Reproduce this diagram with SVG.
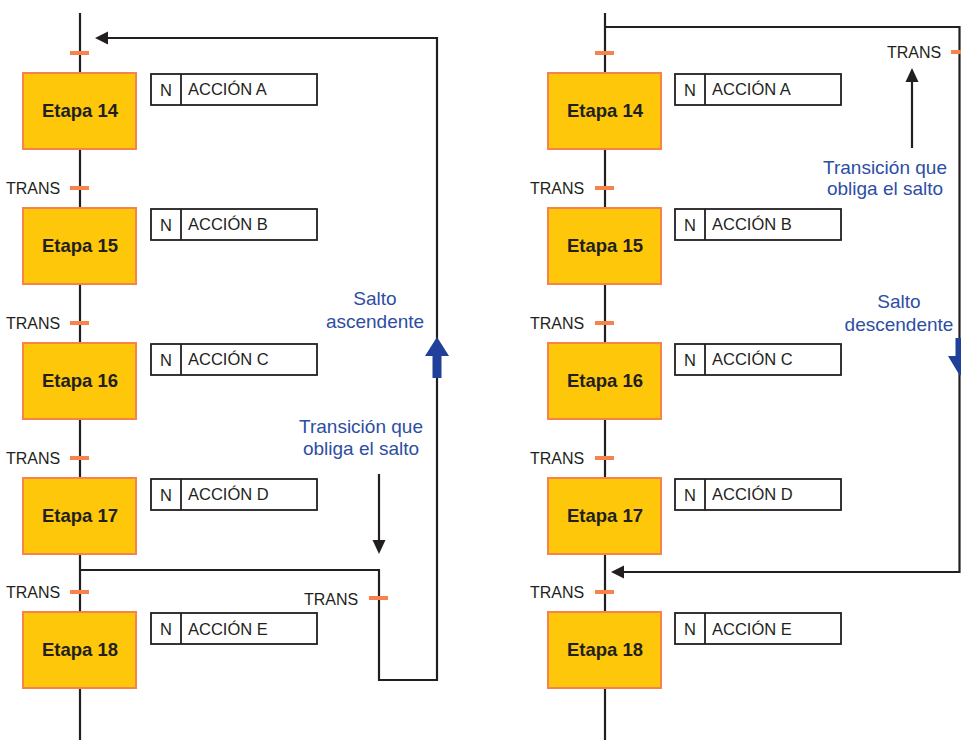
<svg xmlns="http://www.w3.org/2000/svg" width="961" height="740" viewBox="0 0 961 740">
  <defs>
    <style>
      .wire { fill: none; stroke: #231f20; stroke-width: 2.2; }
      .step rect { fill: #fec70a; stroke: #f5834b; stroke-width: 2; }
      .step text { font-family: "Liberation Sans", Arial, sans-serif; font-weight: bold; font-size: 18.5px; fill: #231f20; text-anchor: middle; }
      .act rect, .act line { fill: #ffffff; stroke: #231f20; stroke-width: 1.8; }
      .act text { font-family: "Liberation Sans", Arial, sans-serif; font-size: 16.5px; fill: #231f20; }
      .trans { fill: #f5834b; }
      .tlabel { font-family: "Liberation Sans", Arial, sans-serif; font-size: 16px; fill: #231f20; }
      .note { font-family: "Liberation Sans", Arial, sans-serif; font-size: 19px; fill: #2d4ea3; text-anchor: middle; }
      .blue { fill: #21409a; }
      .head { fill: #231f20; }
    </style>
  </defs>

  <!-- ===== Left chart: upward jump ===== -->
  <g id="left-connectors">
    <line class="wire" x1="80" y1="13" x2="80" y2="740"/>
    <polyline class="wire" points="106,38 437,38 437,680 379,680 379,570 80,570"/>
    <polygon class="head" points="95,38 108,31.5 108,44.5"/>
    <line class="wire" x1="379" y1="474" x2="379" y2="542"/>
    <polygon class="head" points="379,554 372.5,540 385.5,540"/>
    <polygon class="blue" points="437,337 449,356 441.5,356 441.5,378 432.5,378 432.5,356 425,356"/>
  </g>

  <g id="left-transitions">
    <rect class="trans" x="70" y="51" width="19" height="4"/>
    <rect class="trans" x="70" y="186" width="19" height="4"/>
    <rect class="trans" x="70" y="321" width="19" height="4"/>
    <rect class="trans" x="70" y="456" width="19" height="4"/>
    <rect class="trans" x="70" y="590" width="19" height="4"/>
    <rect class="trans" x="369" y="596" width="19" height="4"/>
    <text class="tlabel" x="6" y="194">TRANS</text>
    <text class="tlabel" x="6" y="329">TRANS</text>
    <text class="tlabel" x="6" y="464">TRANS</text>
    <text class="tlabel" x="6" y="598">TRANS</text>
    <text class="tlabel" x="304" y="605">TRANS</text>
  </g>

  <g id="L-etapa14" class="step"><rect x="23" y="73" width="113" height="76"/><text x="80" y="117">Etapa 14</text></g>
  <g id="L-etapa15" class="step"><rect x="23" y="208" width="113" height="76"/><text x="80" y="252">Etapa 15</text></g>
  <g id="L-etapa16" class="step"><rect x="23" y="343" width="113" height="76"/><text x="80" y="387">Etapa 16</text></g>
  <g id="L-etapa17" class="step"><rect x="23" y="478" width="113" height="76"/><text x="80" y="522">Etapa 17</text></g>
  <g id="L-etapa18" class="step"><rect x="23" y="612" width="113" height="76"/><text x="80" y="656">Etapa 18</text></g>

  <g id="L-accionA" class="act"><rect x="151" y="74" width="166" height="31"/><line x1="181" y1="74" x2="181" y2="105"/><text x="160" y="96">N</text><text x="188" y="95">ACCIÓN A</text></g>
  <g id="L-accionB" class="act"><rect x="151" y="209" width="166" height="31"/><line x1="181" y1="209" x2="181" y2="240"/><text x="160" y="231">N</text><text x="188" y="230">ACCIÓN B</text></g>
  <g id="L-accionC" class="act"><rect x="151" y="344" width="166" height="31"/><line x1="181" y1="344" x2="181" y2="375"/><text x="160" y="366">N</text><text x="188" y="365">ACCIÓN C</text></g>
  <g id="L-accionD" class="act"><rect x="151" y="479" width="166" height="31"/><line x1="181" y1="479" x2="181" y2="510"/><text x="160" y="501">N</text><text x="188" y="500">ACCIÓN D</text></g>
  <g id="L-accionE" class="act"><rect x="151" y="613" width="166" height="31"/><line x1="181" y1="613" x2="181" y2="644"/><text x="160" y="635">N</text><text x="188" y="635">ACCIÓN E</text></g>

  <g id="L-notes">
    <text class="note" x="375" y="305">Salto</text>
    <text class="note" x="375" y="328">ascendente</text>
    <text class="note" x="361" y="433">Transición que</text>
    <text class="note" x="361" y="455">obliga el salto</text>
  </g>

  <!-- ===== Right chart: downward jump ===== -->
  <g id="right-connectors">
    <line class="wire" x1="605" y1="13" x2="605" y2="740"/>
    <polyline class="wire" points="605,27 959.5,27 959.5,572 623,572"/>
    <polygon class="head" points="611,572 624,565.5 624,578.5"/>
    <line class="wire" x1="912" y1="148" x2="912" y2="80"/>
    <polygon class="head" points="912,68 905.5,82 918.5,82"/>
    <polygon class="blue" points="960,376 948,356 955.5,356 955.5,338 964.5,338 964.5,356 972,356"/>
  </g>

  <g id="right-transitions">
    <rect class="trans" x="595" y="51" width="19" height="4"/>
    <rect class="trans" x="595" y="186" width="19" height="4"/>
    <rect class="trans" x="595" y="321" width="19" height="4"/>
    <rect class="trans" x="595" y="456" width="19" height="4"/>
    <rect class="trans" x="595" y="590" width="19" height="4"/>
    <rect class="trans" x="951" y="50" width="12" height="4"/>
    <text class="tlabel" x="530" y="194">TRANS</text>
    <text class="tlabel" x="530" y="329">TRANS</text>
    <text class="tlabel" x="530" y="464">TRANS</text>
    <text class="tlabel" x="530" y="598">TRANS</text>
    <text class="tlabel" x="887" y="58">TRANS</text>
  </g>

  <g id="R-etapa14" class="step"><rect x="548" y="73" width="113" height="76"/><text x="605" y="117">Etapa 14</text></g>
  <g id="R-etapa15" class="step"><rect x="548" y="208" width="113" height="76"/><text x="605" y="252">Etapa 15</text></g>
  <g id="R-etapa16" class="step"><rect x="548" y="343" width="113" height="76"/><text x="605" y="387">Etapa 16</text></g>
  <g id="R-etapa17" class="step"><rect x="548" y="478" width="113" height="76"/><text x="605" y="522">Etapa 17</text></g>
  <g id="R-etapa18" class="step"><rect x="548" y="612" width="113" height="76"/><text x="605" y="656">Etapa 18</text></g>

  <g id="R-accionA" class="act"><rect x="675" y="74" width="166" height="31"/><line x1="705" y1="74" x2="705" y2="105"/><text x="684" y="96">N</text><text x="712" y="95">ACCIÓN A</text></g>
  <g id="R-accionB" class="act"><rect x="675" y="209" width="166" height="31"/><line x1="705" y1="209" x2="705" y2="240"/><text x="684" y="231">N</text><text x="712" y="230">ACCIÓN B</text></g>
  <g id="R-accionC" class="act"><rect x="675" y="344" width="166" height="31"/><line x1="705" y1="344" x2="705" y2="375"/><text x="684" y="366">N</text><text x="712" y="365">ACCIÓN C</text></g>
  <g id="R-accionD" class="act"><rect x="675" y="479" width="166" height="31"/><line x1="705" y1="479" x2="705" y2="510"/><text x="684" y="501">N</text><text x="712" y="500">ACCIÓN D</text></g>
  <g id="R-accionE" class="act"><rect x="675" y="613" width="166" height="31"/><line x1="705" y1="613" x2="705" y2="644"/><text x="684" y="635">N</text><text x="712" y="635">ACCIÓN E</text></g>

  <g id="R-notes">
    <text class="note" x="885" y="174">Transición que</text>
    <text class="note" x="885" y="195">obliga el salto</text>
    <text class="note" x="899" y="308">Salto</text>
    <text class="note" x="899" y="331">descendente</text>
  </g>
</svg>
